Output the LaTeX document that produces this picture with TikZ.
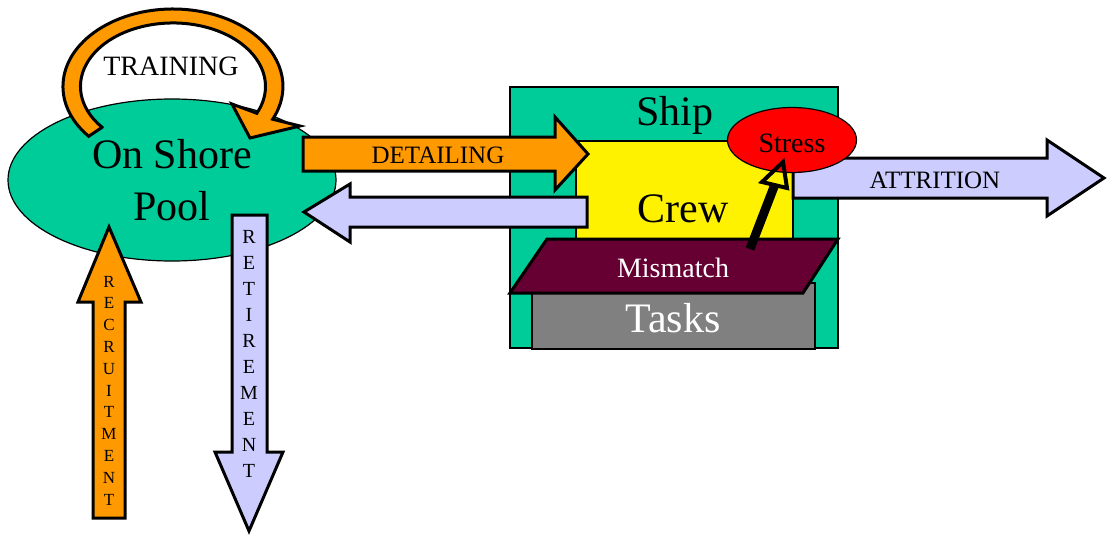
\documentclass[tikz,border=0pt]{standalone}
\usepackage{fontspec}
\setmainfont{Liberation Serif}
\usetikzlibrary{shapes.geometric}
\definecolor{seagreen}{HTML}{00CC99}
\definecolor{borange}{HTML}{FF9900}
\definecolor{lav}{HTML}{CCCCFF}
\definecolor{maroonx}{HTML}{660033}
\definecolor{grayx}{HTML}{808080}
\newcommand\fsz[1]{\fontsize{#1}{#1}\selectfont}
\begin{document}
\begin{tikzpicture}[x=1pt,y=-1pt,
  blockarrow/.style={draw=black, line width=3pt, line join=miter, miter limit=10},
  thinbox/.style={draw=black, line width=1.2pt},
  lbl/.style={anchor=base, inner sep=0pt},
]
\useasboundingbox (0,0) rectangle (1109,538);

% On shore pool
\node[ellipse, fill=seagreen, draw=black, line width=1.2pt, minimum width=328, minimum height=162,
      inner sep=0pt, align=center, font=\fontsize{42}{52}\selectfont] (pool) at (172,180) {On Shore\\Pool};

% Training loop
\filldraw[fill=borange, blockarrow]
  (102.1,127.3) -- (88.7,136.3)
  arc[start angle=140, end angle=385, x radius=110, y radius=77.5]
  -- (300,126) -- (250,138) -- (232,104) -- (256.8,113.3)
  arc[start angle=385, end angle=140, x radius=92.5, y radius=63.5] -- cycle;
\node[lbl, font=\fsz{28}] (training) at (171,75) {TRAINING};

% Recruitment (up)
\filldraw[fill=borange, blockarrow]
  (93,518) -- (93,302) -- (78,302) -- (109,227) -- (141,302) -- (125,302) -- (125,518) -- cycle;
\foreach \l [count=\i from 0] in {R,E,C,R,U,I,T,M,E,N,T}
  \node[lbl, font=\fsz{17}] (rec\i) at (109,{287+\i*21.8}) {\l};

% Retirement (down)
\filldraw[fill=lav, blockarrow]
  (232,215) -- (267,215) -- (267,452) -- (283,452) -- (249,531) -- (215,452) -- (232,452) -- cycle;
\foreach \l [count=\i from 0] in {R,E,T,I,R,E,M,E,N,T}
  \node[lbl, font=\fsz{20}] (ret\i) at (249,{243+\i*26.1}) {\l};

% Ship
\filldraw[fill=seagreen, thinbox] (510,87) rectangle (838,348);
\node[lbl, font=\fsz{42}] (ship) at (675,125) {Ship};
\filldraw[fill=yellow, thinbox] (576,141) rectangle (793,250);
\node[lbl, font=\fsz{42}] (crew) at (683,222) {Crew};

% Detailing
\filldraw[fill=borange, blockarrow]
  (303,137) -- (555,137) -- (555,117) -- (588,154) -- (555,190) -- (555,171) -- (303,171) -- cycle;
\node[lbl, font=\fsz{25}] (detailing) at (438,163) {DETAILING};

% Return arrow
\filldraw[fill=lav, blockarrow]
  (587,197) -- (350,197) -- (350,184) -- (304,212) -- (350,242) -- (350,227) -- (587,227) -- cycle;

% Attrition
\filldraw[fill=lav, blockarrow]
  (793,158) -- (1047,158) -- (1047,140) -- (1104,178) -- (1047,216) -- (1047,198) -- (793,198) -- cycle;
\node[lbl, font=\fsz{25}] (attrition) at (935,188) {ATTRITION};

% Tasks
\filldraw[fill=grayx, thinbox] (532,283) rectangle (815,349);
\node[lbl, font=\fsz{42}, text=white] (tasks) at (673,332) {Tasks};

% Mismatch
\filldraw[fill=maroonx, draw=black, line width=3pt, line join=miter]
  (547,239) -- (838,239) -- (803,293) -- (510,293) -- cycle;
\node[lbl, font=\fsz{28}, text=white] (mismatch) at (673,277) {Mismatch};

% Stress
\node[ellipse, fill=red, draw=black, line width=1.2pt, minimum width=129, minimum height=65,
      inner sep=0pt, font=\fsz{28}] (stress) at (792,140) {};
\node[lbl, font=\fsz{28}] (stresstext) at (792,152) {Stress};

% Mismatch -> Stress arrow
\coordinate (sa) at (750,249);
\coordinate (sb) at (774.5,185.5);
\draw[line width=9pt] (sa) -- (sb);
\draw[line width=4pt, line join=miter] (762,182) -- (783,162) -- (787,188) -- cycle;
\end{tikzpicture}
\end{document}
